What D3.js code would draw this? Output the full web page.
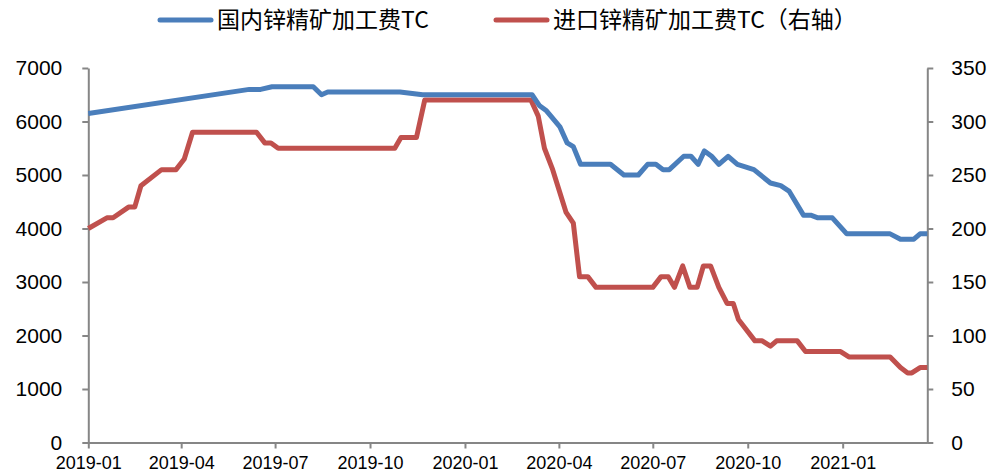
<!doctype html>
<html>
<head>
<meta charset="utf-8">
<style>
  body { margin: 0; background: #fff; }
  .axis path, .axis line { stroke: #868686; stroke-width: 2; }
  .axis text { fill: #000; font-family: "Liberation Sans", Arial, sans-serif; }
  .legend text { font-family: "Noto Sans CJK SC", sans-serif; font-size: 23px; fill: #000; }
</style>
<script src="https://d3js.org/d3.v7.min.js"></script>
</head>
<body>
<svg id="svg" width="992" height="472"></svg>
<script>
// series names
var seriesNames = ["国内锌精矿加工费TC", "进口锌精矿加工费TC（右轴）"];

// domestic TC (left axis, yuan/t)
var domesticDates = ["2019-01-01","2019-06-06","2019-06-17","2019-06-28","2019-08-07","2019-08-15","2019-08-21",
  "2019-10-30","2019-11-21","2020-03-06","2020-03-13","2020-03-20","2020-04-02","2020-04-09","2020-04-15",
  "2020-04-22","2020-05-21","2020-06-03","2020-06-17","2020-06-26","2020-07-04","2020-07-11","2020-07-17",
  "2020-07-31","2020-08-07","2020-08-14","2020-08-20","2020-08-27","2020-09-03","2020-09-12","2020-09-21",
  "2020-10-07","2020-10-23","2020-11-02","2020-11-10","2020-11-24","2020-12-01","2020-12-08","2020-12-22",
  "2021-01-05","2021-02-16","2021-02-26","2021-03-11","2021-03-17","2021-03-24"];
var domesticValues = [6150,6600,6600,6650,6650,6500,6550,
  6550,6500,6500,6300,6200,5900,5600,5530,
  5200,5200,5000,5000,5200,5200,5100,5100,
  5350,5350,5200,5450,5350,5200,5350,5200,
  5100,4850,4800,4700,4250,4250,4200,4200,
  3900,3900,3800,3800,3900,3900];

// imported TC (right axis, USD/t)
var importDates = ["2019-01-01","2019-01-19","2019-01-25","2019-02-09","2019-02-15","2019-02-21","2019-03-13",
  "2019-03-27","2019-04-04","2019-04-12","2019-06-13","2019-06-21","2019-06-27","2019-07-04","2019-10-25",
  "2019-10-31","2019-11-15","2019-11-23","2020-03-05","2020-03-12","2020-03-18","2020-03-26","2020-04-08",
  "2020-04-15","2020-04-21","2020-04-29","2020-05-07","2020-07-01","2020-07-09","2020-07-16","2020-07-22",
  "2020-07-30","2020-08-06","2020-08-13","2020-08-19","2020-08-26","2020-09-03","2020-09-11","2020-09-17",
  "2020-09-22","2020-10-08","2020-10-15","2020-10-23","2020-10-29","2020-11-18","2020-11-26","2020-12-30",
  "2021-01-07","2021-02-16","2021-02-26","2021-03-05","2021-03-09","2021-03-17","2021-03-24"];
var importValues = [200,210,210,220,220,240,255,
  255,265,290,290,280,280,275,275,
  285,285,320,320,305,275,255,215,
  205,155,155,145,145,155,155,145,
  165,145,145,165,165,145,130,130,
  115,95,95,90,95,95,85,85,
  80,80,70,65,65,70,70];

// tick labels
var xTickLabels = ["2019-01","2019-04","2019-07","2019-10","2020-01","2020-04","2020-07","2020-10","2021-01"];
var leftTicks = [0,1000,2000,3000,4000,5000,6000,7000];
var rightTicks = [0,50,100,150,200,250,300,350];

var parseDay = d3.timeParse("%Y-%m-%d"),
    parseMonth = d3.timeParse("%Y-%m");

var domestic = domesticDates.map(function(d, i) { return {date: parseDay(d), value: domesticValues[i]}; });
var imported = importDates.map(function(d, i) { return {date: parseDay(d), value: importValues[i]}; });

var svg = d3.select("#svg"),
    plotLeft = 88.3, plotRight = 927.3, plotTop = 68, plotBottom = 442.5;

var x = d3.scaleTime()
    .domain([parseDay("2019-01-01"), parseDay("2021-03-24")])
    .range([plotLeft, plotRight]);
var yL = d3.scaleLinear().domain([0, 7000]).range([plotBottom, plotTop]);
var yR = d3.scaleLinear().domain([0, 350]).range([plotBottom, plotTop]);

svg.append("g")
   .attr("class", "axis")
   .attr("transform", "translate(0," + plotBottom + ")")
   .call(d3.axisBottom(x)
      .tickValues(xTickLabels.map(parseMonth))
      .tickFormat(d3.timeFormat("%Y-%m"))
      .tickSize(6).tickSizeOuter(0).tickPadding(8))
   .call(function(g) { g.selectAll("text").style("font-size", "18px"); });

svg.append("g")
   .attr("class", "axis")
   .attr("transform", "translate(" + plotLeft + ",0)")
   .call(d3.axisLeft(yL).tickValues(leftTicks).tickFormat(d3.format("d"))
      .tickSize(6).tickSizeOuter(0).tickPadding(20))
   .call(function(g) { g.selectAll("text").style("font-size", "21px"); });

svg.append("g")
   .attr("class", "axis")
   .attr("transform", "translate(" + plotRight + ",0)")
   .call(d3.axisRight(yR).tickValues(rightTicks).tickFormat(d3.format("d"))
      .tickSize(6).tickSizeOuter(0).tickPadding(18))
   .call(function(g) { g.selectAll("text").style("font-size", "21px"); });

var lineL = d3.line().x(function(d) { return x(d.date); }).y(function(d) { return yL(d.value); });
var lineR = d3.line().x(function(d) { return x(d.date); }).y(function(d) { return yR(d.value); });

svg.append("path")
   .datum(imported)
   .attr("fill", "none")
   .attr("stroke", "#C0504D")
   .attr("stroke-width", 5)
   .attr("stroke-linejoin", "round")
   .attr("d", lineR);

svg.append("path")
   .datum(domestic)
   .attr("fill", "none")
   .attr("stroke", "#4A7EBB")
   .attr("stroke-width", 5)
   .attr("stroke-linejoin", "round")
   .attr("d", lineL);

// legend
var legend = svg.append("g").attr("class", "legend");
var legendItems = [
  {name: seriesNames[0], color: "#4A7EBB", x: 160},
  {name: seriesNames[1], color: "#C0504D", x: 496}
];
legendItems.forEach(function(it) {
  legend.append("line")
     .attr("x1", it.x).attr("x2", it.x + 51)
     .attr("y1", 20).attr("y2", 20)
     .attr("stroke", it.color).attr("stroke-width", 5).attr("stroke-linecap", "round");
  legend.append("text")
     .attr("x", it.x + 57).attr("y", 28)
     .text(it.name);
});
</script>
</body>
</html>
